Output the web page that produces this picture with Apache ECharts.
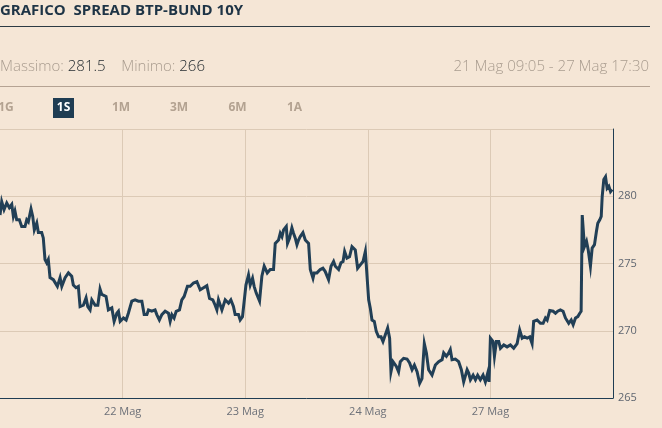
<!DOCTYPE html>
<html>
<head>
<meta charset="utf-8">
<script src="https://cdn.jsdelivr.net/npm/echarts@6/dist/echarts.min.js"></script>
<style>
html,body{margin:0;padding:0;background:#f5e6d6;}
#chart{width:662px;height:428px;}
</style>
</head>
<body>
<div id="chart"></div>
<script>
// Day labels (trading sessions only, weekend removed)
var dayLabels = ['21 Mag', '22 Mag', '23 Mag', '24 Mag', '27 Mag'];
var yTicks = [265, 270, 275, 280, 285];
var rangeButtons = ['1G', '1S', '1M', '3M', '6M', '1A'];
var statMax = '281.5';
var statMin = '266';
var periodText = '21 Mag 09:05 - 27 Mag 17:30';

// Time position in trading-session days since 21 Mag 09:05 (0 = start, 1 = start of 22 Mag, ...)
var sessionPos = [
 0,0.014,0.033,0.055,0.076,0.096,0.109,0.122,0.136,0.158,0.177,0.204,0.218,0.231,0.253,0.267,0.280,0.300,0.313,0.340,
 0.353,0.367,0.381,0.394,0.408,0.435,0.449,0.468,0.490,0.504,0.531,0.558,0.585,0.598,0.620,0.639,0.653,0.680,0.702,0.716,
 0.735,0.749,0.776,0.798,0.816,0.830,0.843,0.865,0.884,0.912,0.931,0.953,0.966,0.980,1.007,1.029,1.047,1.075,1.102,1.129,
 1.157,1.176,1.198,1.211,1.238,1.265,1.279,1.300,1.320,1.347,1.374,1.388,1.402,1.420,1.437,1.464,1.483,1.502,1.529,1.551,
 1.578,1.606,1.633,1.660,1.687,1.709,1.736,1.755,1.769,1.782,1.810,1.837,1.864,1.883,1.904,1.918,1.945,1.959,1.978,1.994,
 2.006,2.027,2.041,2.060,2.073,2.090,2.117,2.136,2.155,2.171,2.180,2.204,2.231,2.245,2.272,2.286,2.300,2.313,2.335,2.345,
 2.362,2.381,2.394,2.408,2.422,2.435,2.449,2.471,2.490,2.517,2.531,2.553,2.563,2.585,2.612,2.634,2.653,2.680,2.700,2.721,
 2.735,2.762,2.781,2.798,2.811,2.830,2.851,2.871,2.898,2.917,2.939,2.961,2.980,2.993,3.007,3.020,3.034,3.053,3.069,3.088,
 3.108,3.124,3.143,3.162,3.178,3.189,3.206,3.233,3.251,3.265,3.292,3.320,3.341,3.361,3.380,3.402,3.423,3.442,3.461,3.478,
 3.496,3.524,3.537,3.551,3.578,3.606,3.619,3.641,3.660,3.673,3.687,3.714,3.741,3.763,3.782,3.810,3.823,3.837,3.859,3.878,
 3.896,3.918,3.940,3.959,3.978,3.989,4.000,4.022,4.033,4.049,4.068,4.082,4.109,4.136,4.163,4.190,4.218,4.239,4.259,4.278,
 4.300,4.321,4.340,4.353,4.381,4.408,4.430,4.449,4.463,4.484,4.512,4.531,4.549,4.571,4.593,4.612,4.626,4.639,4.659,4.675,
 4.694,4.713,4.729,4.740,4.749,4.767,4.784,4.798,4.816,4.830,4.849,4.865,4.876,4.892,4.904,4.912,4.925,4.939,4.952,4.966,
 4.980,4.993
];

// Spread values (basis points)
var spread = [
 278.6,279.6,279.0,279.5,279.15,279.4,278.5,278.9,278.25,278.25,277.75,277.75,278.25,278.1,279.05,278.5,277.5,278.0,277.3,277.3,
 276.9,275.3,275.05,275.3,273.95,273.8,273.8,273.3,273.95,273.3,273.95,274.3,274.05,273.4,273.2,273.3,271.8,271.9,272.45,271.8,
 271.55,272.3,271.9,271.9,273.1,272.7,272.7,272.55,271.55,271.7,270.7,271.3,271.45,270.7,270.95,270.8,271.3,272.2,272.3,272.2,
 272.2,271.2,271.2,271.55,271.45,271.55,271.2,270.8,271.2,271.45,271.3,270.7,271.2,270.95,271.45,271.55,272.3,272.55,273.3,273.3,
 273.55,273.65,273.05,273.2,273.35,272.4,272.3,271.9,271.55,272.3,271.55,272.3,272.05,272.3,271.8,271.2,271.2,270.8,271.05,270.95,
 273.4,274.15,273.4,273.9,273.3,272.8,272.2,274.05,274.8,274.9,274.3,274.55,274.55,276.5,276.75,277.25,277.0,277.5,277.75,276.5,
 276.9,277.65,277.25,276.9,276.4,276.75,277.0,277.3,276.75,276.5,274.55,273.9,274.3,274.3,274.55,274.65,274.4,273.8,274.8,275.15,
 274.8,274.55,275.05,275.15,275.9,275.4,275.5,276.25,276.0,274.65,274.9,275.15,275.9,275.9,272.3,271.7,270.8,270.7,269.95,269.55,
 269.55,269.2,269.7,270.2,269.45,266.95,267.7,267.35,266.95,267.7,267.95,267.9,267.6,267.1,267.45,266.95,266.1,266.45,269.05,268.35,
 267.1,266.7,266.6,267.45,267.7,267.85,268.35,268.1,268.35,268.6,267.85,267.9,267.7,267.1,266.2,267.1,266.85,266.35,266.7,266.35,
 266.7,266.35,266.7,266.2,266.85,266.2,269.45,269.2,268.1,269.2,269.2,268.7,268.95,268.8,268.95,268.7,269.05,270.05,269.45,269.55,
 269.45,269.55,269.05,270.7,270.8,270.55,270.55,270.95,270.8,271.5,271.45,271.3,271.45,271.55,271.45,270.95,271.05,270.55,270.8,270.45,
 270.95,271.05,271.3,271.45,278.6,276.25,276.65,276.0,274.8,276.15,276.4,277.4,278.0,278.25,278.5,280.0,281.25,281.45,280.6,280.75,
 280.35,280.5
];

var seriesData = sessionPos.map(function (t, i) { return [t, spread[i]]; });

var chart = echarts.init(document.getElementById('chart'), null, {renderer: 'canvas'});
var FONT = 'Open Sans';
var navy = '#1f3d53';
var beige = '#b3a291';
var gridCol = '#dccab6';

var graphics = [
  {type: 'text', left: 0, top: 3, style: {text: 'GRAFICO  SPREAD BTP-BUND 10Y', font: 'bold 15px "Open Sans"', fill: '#1e3446'}},
  {type: 'rect', shape: {x: 0, y: 26, width: 650, height: 1}, style: {fill: '#2d3a43'}},
  {type: 'text', x: 0, y: 67, style: {
    text: '{l|Massimo: }{v|' + statMax + '}{s|    }{l|Minimo: }{v|' + statMin + '}',
    verticalAlign: 'middle',
    rich: {
      l: {font: '300 15px "Open Sans"', fill: '#a99c8f'},
      v: {font: '300 15px "Open Sans"', fill: '#1f272c'},
      s: {font: '300 15px "Open Sans"'}
    }
  }},
  {type: 'text', x: 649, y: 67, style: {text: periodText, font: '300 15px "Open Sans"', fill: '#a99c8f', align: 'right', verticalAlign: 'middle'}},
  {type: 'rect', shape: {x: 0, y: 86, width: 650, height: 1}, style: {fill: '#b5a393'}},
  {type: 'rect', shape: {x: 53, y: 98, width: 21, height: 20}, style: {fill: navy}}
];
var btnX = [6, 63.5, 121, 179, 237.5, 294.5];
rangeButtons.forEach(function (b, i) {
  graphics.push({type: 'text', x: btnX[i], y: 108, style: {
    text: b, font: 'bold 12px "Open Sans"', fill: i === 1 ? '#ffffff' : beige, align: 'center', verticalAlign: 'middle'
  }});
});

chart.setOption({
  backgroundColor: '#f5e6d6',
  animation: false,
  graphic: graphics,
  grid: {left: 0, right: 49, top: 129, bottom: 30, containLabel: false, outerBoundsMode: 'none'},
  xAxis: {
    type: 'value',
    min: 0,
    max: dayLabels.length,
    interval: 1,
    axisLine: {show: true, onZero: false, lineStyle: {color: navy, width: 1}},
    axisTick: {show: false},
    splitLine: {show: true, lineStyle: {color: ['rgba(0,0,0,0)', gridCol, gridCol, gridCol, gridCol, gridCol], width: 1}},
    axisLabel: {
      color: '#6c7078', fontFamily: FONT, fontSize: 11, margin: 8,
      showMinLabel: false, showMaxLabel: false,
      formatter: function (v) { return dayLabels[Math.round(v)] || ''; }
    }
  },
  yAxis: {
    type: 'value',
    position: 'right',
    min: yTicks[0],
    max: yTicks[yTicks.length - 1],
    interval: yTicks[1] - yTicks[0],
    axisLine: {show: true, onZero: false, lineStyle: {color: navy, width: 1}},
    axisTick: {show: false},
    splitLine: {show: true, lineStyle: {color: gridCol, width: 1}},
    axisLabel: {color: '#5f6670', fontFamily: FONT, fontSize: 11, margin: 5, showMaxLabel: false}
  },
  series: [{
    type: 'line',
    data: seriesData,
    showSymbol: false,
    symbol: 'none',
    lineStyle: {color: '#213f56', width: 3, join: 'miter'},
    clip: true
  }]
});
</script>
</body>
</html>
